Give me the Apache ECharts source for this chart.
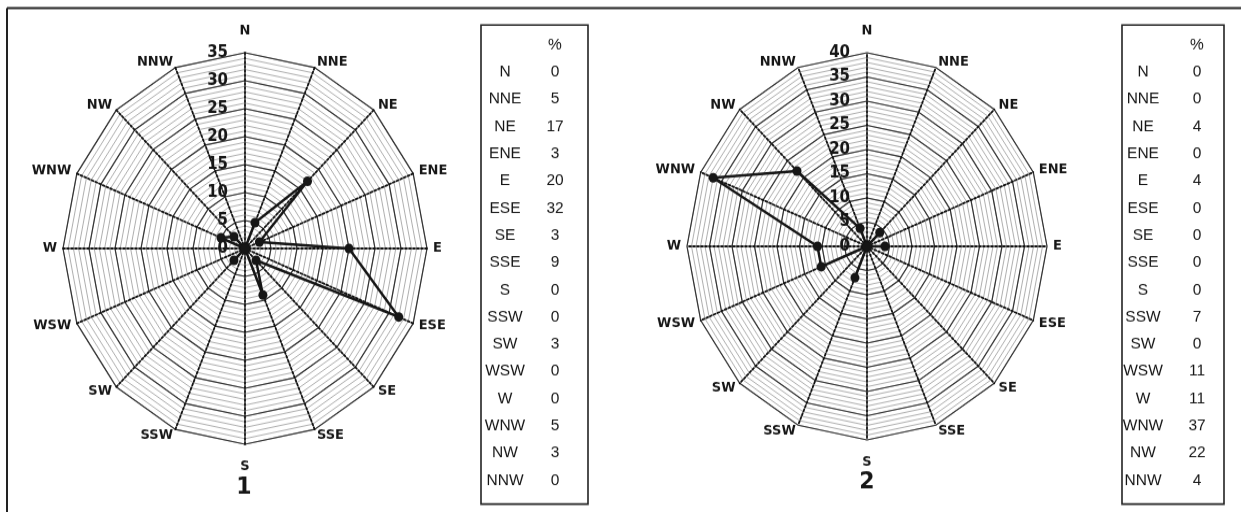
<!DOCTYPE html>
<html>
<head>
<meta charset="utf-8">
<script src="https://cdn.jsdelivr.net/npm/echarts@6/dist/echarts.min.js"></script>
<style>
  html, body { margin: 0; padding: 0; background: #fff; overflow: hidden; }
  #wrap { width: 1241px; height: 512px; overflow: hidden; }
  /* drawn at 476px tall and stretched to the full height */
  #chart { width: 1241px; height: 476px; transform: scaleY(1.0756); transform-origin: 0 0; }
</style>
</head>
<body>
<div id="wrap"><div id="chart"></div></div>
<script>
// Wind directions, clockwise from north
const directions = ['N', 'NNE', 'NE', 'ENE', 'E', 'ESE', 'SE', 'SSE', 'S', 'SSW', 'SW', 'WSW', 'W', 'WNW', 'NW', 'NNW'];
// Frequency (%) per direction
const site1Values = [0, 5, 17, 3, 20, 32, 3, 9, 0, 0, 3, 0, 0, 5, 3, 0];
const site2Values = [0, 0, 4, 0, 4, 0, 0, 0, 0, 7, 0, 11, 11, 37, 22, 4];
// Radial scale: max value and labelled step
const site1Max = 35;
const site2Max = 40;
const tickStep = 5;
const site1Title = '1';
const site2Title = '2';
const tableHeader = '%';

const INK = '#161616';
const BOLD_FONT = 'DejaVu Sans';

// radar indicators run counter-clockwise, so list them N, NNW, NW, ... NNE
const ccwOrder = directions.map((d, i) => (directions.length - i) % directions.length);

function radarPair(center, radius, max) {
  const fine = {
    center: center, radius: radius, shape: 'polygon', startAngle: 90,
    splitNumber: max, silent: true,
    indicator: ccwOrder.map(i => ({ name: directions[i], min: 0, max: max })),
    axisName: { show: false },
    axisLine: { show: false },
    axisTick: { show: false },
    axisLabel: { show: false },
    splitLine: { lineStyle: { color: '#9a9a9a', width: 0.8 } },
    splitArea: { show: false }
  };
  const main = {
    center: center, radius: radius, shape: 'polygon', startAngle: 90,
    splitNumber: max / tickStep,
    indicator: ccwOrder.map((i, k) => ({
      name: directions[i], min: 0, max: max,
      nameGap: (directions[i] === 'N' || directions[i] === 'S') ? 14 : 6,
      axisLabel: { show: k === 0 }
    })),
    axisName: { color: INK, fontFamily: BOLD_FONT, fontWeight: 'bold', fontSize: 13 },
    axisLine: { lineStyle: { color: '#111', width: 1.8, type: [2, 2] } },
    axisTick: { show: false },
    axisLabel: { show: false, color: INK, fontFamily: BOLD_FONT, fontWeight: 'bold', fontSize: 15, margin: 17 },
    splitLine: { lineStyle: { color: '#333', width: 1.2 } },
    splitArea: { show: false }
  };
  return [fine, main];
}

function radarSeries(radarIndex, values, name) {
  return {
    type: 'radar', radarIndex: radarIndex, z: 5,
    symbol: 'circle', symbolSize: 9,
    lineStyle: { color: '#161616', width: 2.5 },
    itemStyle: { color: '#161616' },
    data: [{ name: name, value: ccwOrder.map(i => values[i]) }]
  };
}

function table(left, right, dirX, valX, values) {
  const top = 23.2, bottom = 468.6, headerY = 41.8, firstRow = 66.9, pitch = 25.3;
  const font = '15.5px "Liberation Sans"';
  const els = [{
    type: 'rect', shape: { x: left, y: top, width: right - left, height: bottom - top },
    style: { fill: 'none', stroke: '#222', lineWidth: 1.6 }
  }, {
    type: 'text', x: valX, y: headerY,
    style: { text: tableHeader, font: font, fill: INK, align: 'center', verticalAlign: 'middle' }
  }];
  directions.forEach((d, i) => {
    const y = firstRow + i * pitch;
    els.push({ type: 'text', x: dirX, y: y,
      style: { text: d, font: font, fill: INK, align: 'center', verticalAlign: 'middle' } });
    els.push({ type: 'text', x: valX, y: y,
      style: { text: String(values[i]), font: font, fill: INK, align: 'center', verticalAlign: 'middle' } });
  });
  return els;
}

const chart = echarts.init(document.getElementById('chart'), null, { renderer: 'canvas' });

const radars = [].concat(
  radarPair([245, 231], 182, site1Max),
  radarPair([867, 229], 180, site2Max)
);

const graphics = [
  // frame
  { type: 'line', shape: { x1: 7, y1: 7.4, x2: 1241, y2: 7.4 }, style: { stroke: '#222', lineWidth: 2 } },
  { type: 'line', shape: { x1: 7, y1: 7.4, x2: 7, y2: 476 }, style: { stroke: '#222', lineWidth: 2 } },
  // chart numbers
  { type: 'text', x: 244, y: 452.8,
    style: { text: site1Title, font: 'bold 22px "DejaVu Sans"', fill: INK, align: 'center', verticalAlign: 'middle' } },
  { type: 'text', x: 867, y: 448,
    style: { text: site2Title, font: 'bold 22px "DejaVu Sans"', fill: INK, align: 'center', verticalAlign: 'middle' } }
].concat(
  table(481, 588, 505, 555, site1Values),
  table(1122, 1224, 1143, 1197, site2Values)
);

chart.setOption({
  backgroundColor: '#fff',
  animation: false,
  radar: radars,
  series: [
    radarSeries(1, site1Values, site1Title),
    radarSeries(3, site2Values, site2Title)
  ],
  graphic: graphics
});
</script>
</body>
</html>
